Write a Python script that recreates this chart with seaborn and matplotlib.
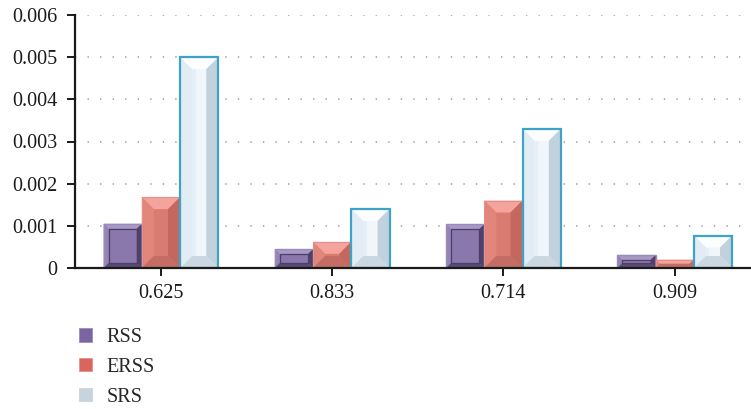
import matplotlib
matplotlib.use("Agg")
import matplotlib.pyplot as plt
from matplotlib.patches import Polygon, Patch
import seaborn as sns
import pandas as pd

# Values per correlation level
categories = ["0.625", "0.833", "0.714", "0.909"]
series = ["RSS", "ERSS", "SRS"]
rss = [0.00105, 0.00045, 0.00104, 0.00031]
erss = [0.00168, 0.00062, 0.00160, 0.00020]
srs = [0.00500, 0.00140, 0.00330, 0.00077]
yticks = [0, 0.001, 0.002, 0.003, 0.004, 0.005, 0.006]
ytick_labels = ["0", "0.001", "0.002", "0.003", "0.004", "0.005", "0.006"]

df = pd.DataFrame({
    "cat": categories * 3,
    "method": [s for s in series for _ in categories],
    "value": rss + erss + srs,
})

# Bevel shading per series: outline, face, top, left, right, bottom, bevel px
styles = {
    "RSS": dict(edge="#9a8cb8", face="#8a77ab", top="#a898c6", left="#9483b7",
                right="#4f4169", bottom="#584a76", bevel=5, lw=1.0),
    "ERSS": dict(edge="#e39089", face="#d97b71", top="#f5a49d", left="#e2857b",
                 right="#c4675f", bottom="#c46d65", bevel=12, lw=0.8),
    "SRS": dict(edge="#3ea4c6", face="#f1f6fb", top="#fbfdff", left="#e2ecf5",
                right="#c1d1dd", bottom="#cbd8e2", bevel=12, lw=1.6),
}

sns.set_theme(style="white")
plt.rcParams["font.family"] = ["Liberation Serif", "DejaVu Serif"]

fig = plt.figure(figsize=(7.51, 4.09), dpi=100)
ax = fig.add_axes([75.3 / 751, 1 - 268 / 409, 685 / 751, 253 / 409])

sns.barplot(data=df, x="cat", y="value", hue="method", order=categories,
            hue_order=series, width=0.67, ax=ax, legend=False,
            palette=[styles[s]["face"] for s in series], saturation=1,
            linewidth=0, zorder=3)

ax.set_xlim(-0.5, 3.5)
ax.set_ylim(0, 0.006)
ax.set_yticks(yticks)
ax.set_yticklabels(ytick_labels)
ax.set_xlabel("")
ax.set_ylabel("")

# Dotted horizontal grid
for yv in yticks[1:]:
    ax.axhline(yv, color="#9a9a9a", lw=1.1, ls=(0, (0.9, 7.3)), zorder=1)

# Beveled bar faces drawn over each seaborn bar
fig.canvas.draw()
to_px = ax.transData
to_data = ax.transData.inverted()
for name, container in zip(series, ax.containers):
    st = styles[name]
    for bar in container:
        x0, y0 = bar.get_x(), bar.get_y()
        x1, y1 = x0 + bar.get_width(), y0 + bar.get_height()
        (px0, py0), (px1, py1) = to_px.transform([(x0, y0), (x1, y1)])
        d = min(st["bevel"], (px1 - px0) / 2, (py1 - py0) / 2)
        (ix0, iy0), (ix1, iy1) = to_data.transform([(px0 + d, py0 + d), (px1 - d, py1 - d)])
        pieces = [
            ([(x0, y0), (x1, y0), (x1, y1), (x0, y1)], st["face"]),
            ([(x0, y1), (x1, y1), (ix1, iy1), (ix0, iy1)], st["top"]),
            ([(x0, y0), (x0, y1), (ix0, iy1), (ix0, iy0)], st["left"]),
            ([(x1, y0), (x1, y1), (ix1, iy1), (ix1, iy0)], st["right"]),
            ([(x0, y0), (x1, y0), (ix1, iy0), (ix0, iy0)], st["bottom"]),
        ]
        for pts, col in pieces:
            ax.add_patch(Polygon(pts, closed=True, facecolor=col, edgecolor="none", zorder=4))
        if name == "SRS":
            cx0 = ix0 + (ix1 - ix0) * 0.25
            ax.add_patch(Polygon([(ix0, iy0), (cx0, iy0), (cx0, iy1), (ix0, iy1)],
                                 closed=True, facecolor="#e6eff7", edgecolor="none", zorder=4))
        if name == "RSS":
            ax.add_patch(Polygon([(ix0, iy0), (ix1, iy0), (ix1, iy1), (ix0, iy1)], closed=True,
                                 facecolor="none", edgecolor="#4d3f66", lw=0.9, zorder=5))
        ax.add_patch(Polygon([(x0, y0), (x1, y0), (x1, y1), (x0, y1)], closed=True,
                             facecolor="none", edgecolor=st["edge"], lw=st["lw"], zorder=6))

# Axes styling
for side in ["top", "right"]:
    ax.spines[side].set_visible(False)
for side in ["left", "bottom"]:
    ax.spines[side].set_color("#1a1a1a")
    ax.spines[side].set_linewidth(1.6)
    ax.spines[side].set_zorder(7)
ax.tick_params(axis="y", which="major", left=True, length=5.5, width=1.4,
               color="#1a1a1a", pad=7.5, labelsize=14.5, labelcolor="#1a1a1a")
ax.tick_params(axis="x", which="major", bottom=True, length=5.5, width=1.4,
               color="#1a1a1a", pad=6, labelsize=14.5, labelcolor="#1a1a1a")

handles = [Patch(facecolor="#7a64a2", edgecolor="#9a8cb8", lw=0.6),
           Patch(facecolor="#d9665d", edgecolor="#eb8f88", lw=0.6),
           Patch(facecolor="#c8d4dd", edgecolor="#c8d4dd", lw=0.6)]
fig.legend(handles, series, loc="upper left", bbox_to_anchor=(65 / 751, 1 - 314 / 409),
           frameon=False, fontsize=14.5, handlelength=0.62, handleheight=0.62,
           handletextpad=0.75, labelspacing=0.54, borderpad=0.2)

fig.savefig("out.png", dpi=100)
